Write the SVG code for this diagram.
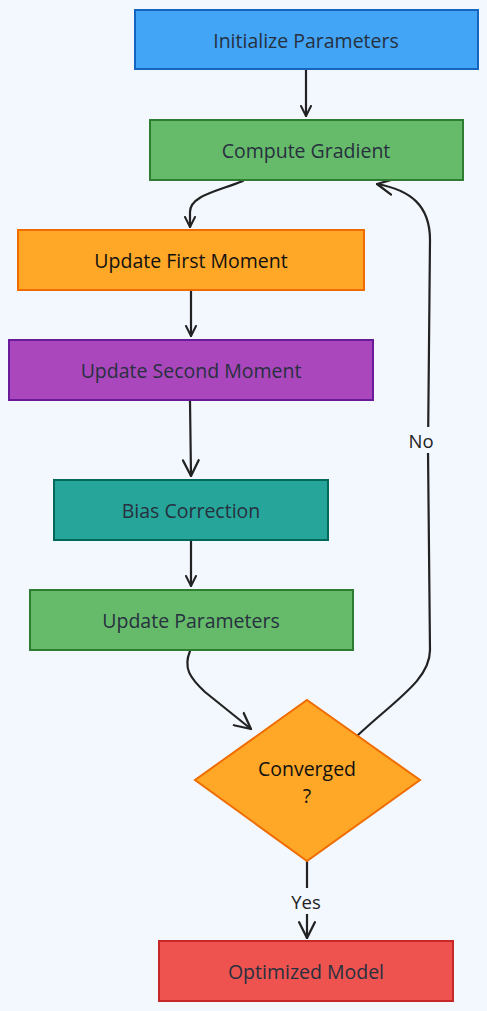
<svg xmlns="http://www.w3.org/2000/svg" width="487" height="1011" viewBox="0 0 487 1011">
<defs>
<style>
.lbl{font-family:"Open Sans","Noto Sans",sans-serif;font-size:19.5px;fill:#27303f;text-anchor:middle;dominant-baseline:central}
.dk{fill:#111}
.node{stroke-width:2}
.edge{fill:none;stroke:#222;stroke-width:2.2;stroke-linecap:round;stroke-linejoin:round}
.elbl{font-family:"Open Sans","Noto Sans",sans-serif;font-size:18.5px;fill:#222;text-anchor:middle;dominant-baseline:central}
</style>
<marker id="arr" viewBox="0 0 12 12" refX="11" refY="6" markerWidth="12" markerHeight="12" markerUnits="userSpaceOnUse" orient="auto">
<path d="M1,1 L11,6 L1,11" fill="none" stroke="#222" stroke-width="2" stroke-linecap="round" stroke-linejoin="round"/>
</marker>
<marker id="arrL" viewBox="0 0 16 16" refX="15" refY="8" markerWidth="18" markerHeight="18" markerUnits="userSpaceOnUse" orient="auto">
<path d="M1,1 L15,8 L1,15" fill="none" stroke="#222" stroke-width="2" stroke-linecap="round" stroke-linejoin="round"/>
</marker>
</defs>
<rect width="487" height="1011" fill="#f3f8fe"/>
<g id="connectors">
<path class="edge" d="M306,70 L306,116" marker-end="url(#arr)"/>
<path class="edge" d="M243,181 C215,192 190,196 190,212 L190,227" marker-end="url(#arr)"/>
<path class="edge" d="M191,291 L191,336" marker-end="url(#arr)"/>
<path class="edge" d="M190,401 L191,476" marker-end="url(#arrL)"/>
<path class="edge" d="M191,541 L191,586" marker-end="url(#arr)"/>
<path class="edge" d="M190,651 C183,668 190,678 205,692 L251,729" marker-end="url(#arrL)"/>
<path class="edge" d="M357,736 C395,700 430,680 430,650 L428,450 L430,240 C430,205 410,190 377,184" marker-end="url(#arrL)"/>
<path class="edge" d="M307,861 L307,938" marker-end="url(#arrL)"/>
<rect x="400" y="427" width="42" height="26" fill="#f3f8fe"/>
<text class="elbl" x="421" y="440">No</text>
<rect x="284" y="888" width="46" height="26" fill="#f3f8fe"/>
<text class="elbl" x="306" y="901">Yes</text>
</g>
<g id="n1"><rect class="node" x="135" y="10" width="343" height="59" fill="#42a5f5" stroke="#1565c0"/><text class="lbl" x="306" y="40">Initialize Parameters</text></g>
<g id="n2"><rect class="node" x="150" y="120" width="313" height="60" fill="#66bb6a" stroke="#2e7d32"/><text class="lbl" x="306" y="150">Compute Gradient</text></g>
<g id="n3"><rect class="node" x="18" y="230" width="346" height="60" fill="#ffa726" stroke="#ef6c00"/><text class="lbl dk" x="191" y="260">Update First Moment</text></g>
<g id="n4"><rect class="node" x="9" y="340" width="364" height="60" fill="#ab47bc" stroke="#6a1b9a"/><text class="lbl" x="191" y="370">Update Second Moment</text></g>
<g id="n5"><rect class="node" x="54" y="480" width="274" height="60" fill="#26a69a" stroke="#00695c"/><text class="lbl" x="191" y="510">Bias Correction</text></g>
<g id="n6"><rect class="node" x="30" y="590" width="323" height="60" fill="#66bb6a" stroke="#2e7d32"/><text class="lbl" x="191" y="620">Update Parameters</text></g>
<g id="n7"><polygon class="node" points="307,700 420,780 307,861 195,780" fill="#ffa726" stroke="#ef6c00"/><text class="lbl dk" x="307" y="768">Converged</text><text class="lbl dk" x="307" y="795">?</text></g>
<g id="n8"><rect class="node" x="159" y="941" width="294" height="60" fill="#ef5350" stroke="#c62828"/><text class="lbl" x="306" y="971">Optimized Model</text></g>
</svg>
